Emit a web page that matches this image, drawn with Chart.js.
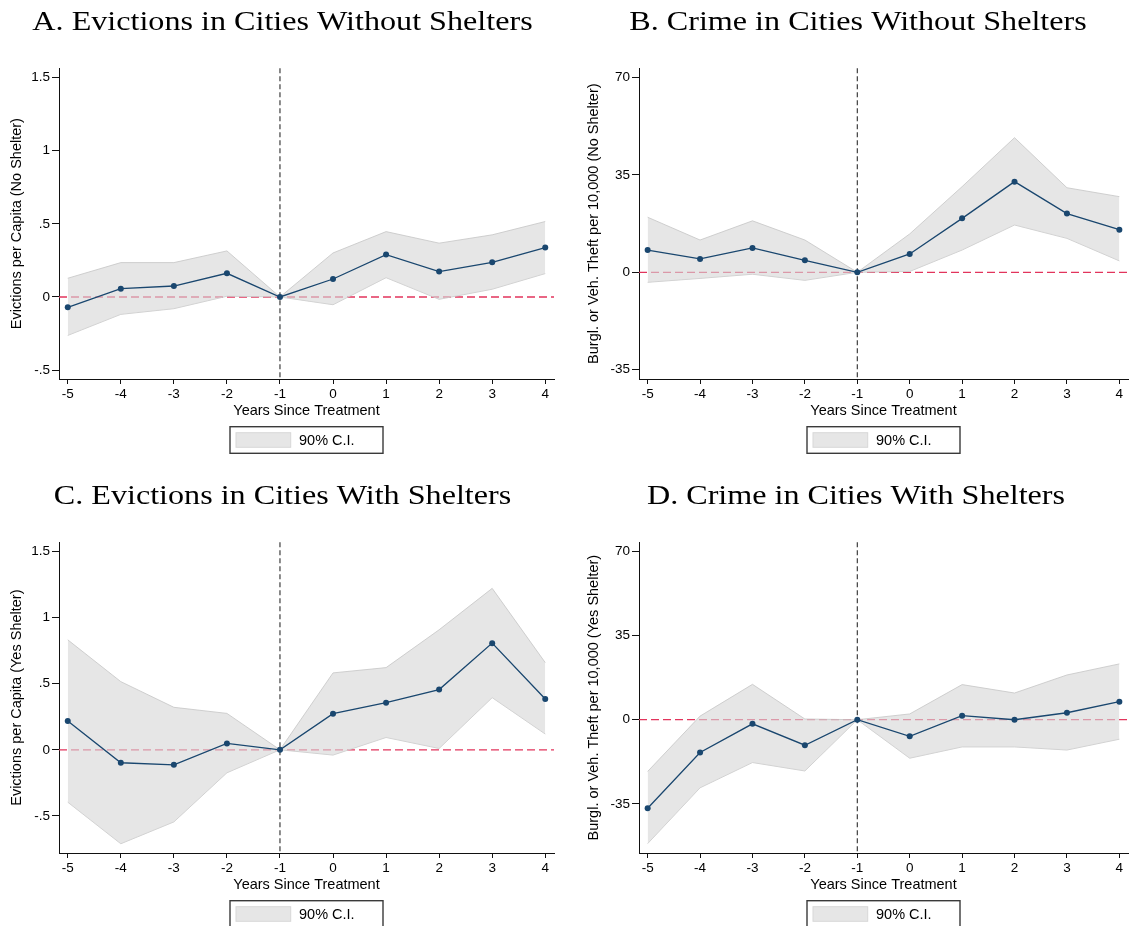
<!DOCTYPE html>
<html><head><meta charset="utf-8">
<script src="https://cdn.jsdelivr.net/npm/chart.js@4.4.1/dist/chart.umd.min.js"></script>
<style>
html,body{margin:0;padding:0;background:#fff;}
#wrap{position:relative;width:1131px;height:926px;overflow:hidden;background:#fff;}
canvas{position:absolute;}
</style></head><body>
<div id="wrap">
<canvas id="cA" width="580" height="474" style="left:0px;top:0px;width:580px;height:474px"></canvas>
<canvas id="cB" width="551" height="474" style="left:580px;top:0px;width:551px;height:474px"></canvas>
<canvas id="cC" width="580" height="452" style="left:0px;top:474px;width:580px;height:452px"></canvas>
<canvas id="cD" width="551" height="452" style="left:580px;top:474px;width:551px;height:452px"></canvas>
</div>
<script>
// ---------------- data ----------------
const years = [-5, -4, -3, -2, -1, 0, 1, 2, 3, 4];

// A. Evictions, no shelter
const evictNoShelter      = [-0.071, 0.057, 0.075, 0.162, 0, 0.123, 0.290, 0.174, 0.237, 0.338];
const evictNoShelterHi    = [ 0.128, 0.235, 0.235, 0.315, 0, 0.301, 0.447, 0.368, 0.425, 0.516];
const evictNoShelterLo    = [-0.263,-0.119,-0.080, 0.005, 0,-0.053, 0.132,-0.016, 0.053, 0.160];

// B. Crime, no shelter
const crimeNoShelter      = [ 8.0, 4.8, 8.75, 4.3, 0, 6.6, 19.4, 32.6, 21.1, 15.3];
const crimeNoShelterHi    = [19.8, 11.6, 18.5, 11.6, 0, 13.8, 30.8, 48.4, 30.4, 27.2];
const crimeNoShelterLo    = [-3.6, -2.2, -0.7, -2.9, 0, 0.3, 8.0, 17.0, 12.2, 4.1];

// C. Evictions, with shelter
const evictShelter        = [ 0.217,-0.098,-0.114, 0.048, 0, 0.273, 0.356, 0.455, 0.806, 0.384];
const evictShelterHi      = [ 0.831, 0.515, 0.321, 0.275, 0, 0.581, 0.621, 0.907, 1.220, 0.659];
const evictShelterLo      = [-0.396,-0.710,-0.545,-0.174, 0,-0.040, 0.093, 0.010, 0.394, 0.119];

// D. Crime, with shelter
const crimeShelter        = [-36.8, -13.6, -1.7, -10.6, 0, -6.9, 1.7, 0, 2.9, 7.5];
const crimeShelterHi      = [-21.5, 1.5, 14.7, 0.3, 0, 2.4, 14.6, 11.1, 18.6, 23.2];
const crimeShelterLo      = [-51.5, -28.3, -17.8, -21.3, 0, -16.0, -11.3, -11.3, -12.6, -8.1];

// tick labels
const xTicks = [-5, -4, -3, -2, -1, 0, 1, 2, 3, 4];
const evictTicks = [-0.5, 0, 0.5, 1, 1.5];
const evictTickLabels = ['-.5', '0', '.5', '1', '1.5'];
const crimeTicks = [-35, 0, 35, 70];
const crimeTickLabels = ['-35', '0', '35', '70'];

const treatmentYear = -1;
const zeroLevel = 0;
const legendLabel = '90% C.I.';
const xTitle = 'Years Since Treatment';

// ---------------- styling / layout ----------------
const SANS = '"Liberation Sans", Arial, Helvetica, sans-serif';
const SERIF = '"Liberation Serif", "Times New Roman", serif';
const NAVY = '#1a476f';
const BAND = 'rgba(215,215,215,0.62)';
const BAND_EDGE = 'rgba(200,200,200,0.85)';
const REDLINE = 'rgb(226,52,92)';

const PLOT_TOP = 68.3, PLOT_BOTTOM = 379, YAXIS_W = 59;

const panelDecor = {
  id: 'panelDecor',
  beforeDatasetsDraw(chart) {
    const a = chart.chartArea, ctx = chart.ctx;
    const xs = chart.scales.x, ys = chart.scales.y;
    ctx.save();
    ctx.beginPath(); ctx.rect(a.left, a.top - 1, a.right - a.left, a.bottom - a.top + 1); ctx.clip();
    const y0 = ys.getPixelForValue(zeroLevel);
    ctx.setLineDash([8, 4]);
    ctx.strokeStyle = REDLINE; ctx.lineWidth = 1.3;
    ctx.beginPath(); ctx.moveTo(a.left, y0); ctx.lineTo(a.right, y0); ctx.stroke();
    const x1 = xs.getPixelForValue(treatmentYear);
    ctx.setLineDash([5, 3]);
    ctx.strokeStyle = '#2b2b2b'; ctx.lineWidth = 1.1;
    ctx.beginPath(); ctx.moveTo(x1, a.top); ctx.lineTo(x1, a.bottom); ctx.stroke();
    ctx.restore();
  },
  afterDraw(chart) {
    const o = chart.options.plugins.panelDecor;
    const a = chart.chartArea, ctx = chart.ctx;
    ctx.save();
    ctx.fillStyle = '#000';
    // main title
    ctx.font = '27px ' + SERIF;
    ctx.textAlign = 'center'; ctx.textBaseline = 'alphabetic';
    ctx.save(); ctx.translate(o.titleX, 30); ctx.scale(1.19, 1);
    ctx.fillText(o.title, 0, 0); ctx.restore();
    // y-axis title
    ctx.font = '14.5px ' + SANS;
    ctx.save(); ctx.translate(o.yTitleX, (a.top + a.bottom) / 2); ctx.rotate(-Math.PI / 2);
    ctx.textAlign = 'center'; ctx.textBaseline = 'middle';
    ctx.fillText(o.yTitle, 0, 0); ctx.restore();
    // x-axis title
    const cx = (a.left + a.right) / 2;
    ctx.textAlign = 'center'; ctx.textBaseline = 'alphabetic';
    ctx.fillText(xTitle, cx, 415);
    // legend
    const bw = 153, bh = 26.6, bx = cx - bw / 2, by = 426.7;
    ctx.fillStyle = '#fff'; ctx.fillRect(bx, by, bw, bh);
    ctx.strokeStyle = '#3a3a3a'; ctx.lineWidth = 1.4;
    ctx.strokeRect(bx, by, bw, bh);
    ctx.fillStyle = '#e6e6e6'; ctx.fillRect(bx + 6, by + 6, 54.7, 14.6);
    ctx.strokeStyle = '#d7d7d7'; ctx.lineWidth = 1;
    ctx.strokeRect(bx + 6, by + 6, 54.7, 14.6);
    ctx.fillStyle = '#000'; ctx.textAlign = 'left'; ctx.textBaseline = 'middle';
    ctx.fillText(legendLabel, bx + 69, by + bh / 2 + 0.5);
    ctx.restore();
  }
};

function pts(ys) { return years.map((x, i) => ({ x: x, y: ys[i] })); }

function makePanel(id, cfg) {
  const canvas = document.getElementById(id);
  const H = canvas.height, W = canvas.width;
  return new Chart(canvas, {
    type: 'line',
    data: {
      datasets: [
        { data: pts(cfg.hi), borderColor: BAND_EDGE, borderWidth: 1, backgroundColor: BAND,
          fill: '+1', pointRadius: 0, tension: 0, order: 3 },
        { data: pts(cfg.lo), borderColor: BAND_EDGE, borderWidth: 1, backgroundColor: BAND,
          fill: false, pointRadius: 0, tension: 0, order: 3 },
        { data: pts(cfg.est), borderColor: NAVY, borderWidth: 1.3, fill: false, tension: 0,
          pointRadius: 3, pointHoverRadius: 3, pointBackgroundColor: NAVY, pointBorderColor: NAVY,
          pointBorderWidth: 0, order: 1 }
      ]
    },
    options: {
      responsive: false, animation: false, events: [],
      layout: { padding: { top: PLOT_TOP, left: 0, right: cfg.padRight, bottom: 0 } },
      plugins: {
        legend: { display: false }, tooltip: { enabled: false }, title: { display: false },
        panelDecor: { title: cfg.title, yTitle: cfg.yTitle, titleX: cfg.titleX, yTitleX: cfg.yTitleX }
      },
      scales: {
        x: {
          type: 'linear', position: 'bottom', min: -5.165, max: 4.165,
          afterFit: s => { s.height = H - PLOT_BOTTOM; },
          afterBuildTicks: s => { s.ticks = xTicks.map(v => ({ value: v })); },
          ticks: { autoSkip: false, maxRotation: 0, color: '#000', padding: 2,
                   font: { family: SANS, size: 13.5 }, callback: v => String(v) },
          grid: { drawOnChartArea: false, drawTicks: true, tickLength: 5, color: '#111', lineWidth: 1 },
          border: { display: true, color: '#111', width: 1 }
        },
        y: {
          type: 'linear', position: 'left', min: cfg.yMin, max: cfg.yMax,
          afterFit: s => { s.width = YAXIS_W; },
          afterBuildTicks: s => { s.ticks = cfg.yTicks.map(v => ({ value: v })); },
          ticks: { autoSkip: false, color: '#000', padding: 2,
                   font: { family: SANS, size: 13.5 },
                   callback: v => { const i = cfg.yTicks.indexOf(v); return i >= 0 ? cfg.yLabels[i] : ''; } },
          grid: { drawOnChartArea: false, drawTicks: true, tickLength: 7, color: '#111', lineWidth: 1 },
          border: { display: true, color: '#111', width: 1 }
        }
      }
    },
    plugins: [panelDecor]
  });
}

function build() {
  makePanel('cA', { est: evictNoShelter, hi: evictNoShelterHi, lo: evictNoShelterLo,
    yMin: -0.561, yMax: 1.564, yTicks: evictTicks, yLabels: evictTickLabels,
    title: 'A. Evictions in Cities Without Shelters', yTitle: 'Evictions per Capita (No Shelter)',
    titleX: 282.5, yTitleX: 17, padRight: 26 });
  makePanel('cB', { est: crimeNoShelter, hi: crimeNoShelterHi, lo: crimeNoShelterLo,
    yMin: -38.37, yMax: 73.35, yTicks: crimeTicks, yLabels: crimeTickLabels,
    title: 'B. Crime in Cities Without Shelters', yTitle: 'Burgl. or Veh. Theft per 10,000 (No Shelter)',
    titleX: 278, yTitleX: 14, padRight: 0 });
  makePanel('cC', { est: evictShelter, hi: evictShelterHi, lo: evictShelterLo,
    yMin: -0.780, yMax: 1.568, yTicks: evictTicks, yLabels: evictTickLabels,
    title: 'C. Evictions in Cities With Shelters', yTitle: 'Evictions per Capita (Yes Shelter)',
    titleX: 282.5, yTitleX: 17, padRight: 26 });
  makePanel('cD', { est: crimeShelter, hi: crimeShelterHi, lo: crimeShelterLo,
    yMin: -55.4, yMax: 73.75, yTicks: crimeTicks, yLabels: crimeTickLabels,
    title: 'D. Crime in Cities With Shelters', yTitle: 'Burgl. or Veh. Theft per 10,000 (Yes Shelter)',
    titleX: 276, yTitleX: 14, padRight: 0 });
}

const fontLoads = [
  '27px "Liberation Serif"', '14px "Liberation Sans"'
].map(f => (document.fonts && document.fonts.load) ? document.fonts.load(f) : Promise.resolve());
Promise.all(fontLoads).then(build, build);
</script>
</body></html>
